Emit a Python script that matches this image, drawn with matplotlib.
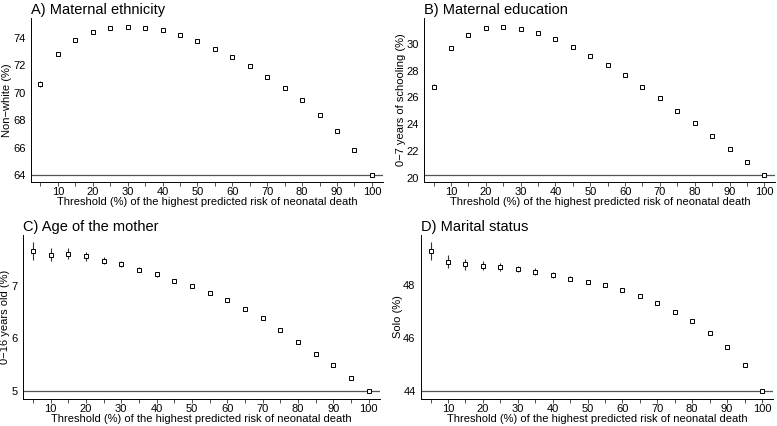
import matplotlib
matplotlib.use("Agg")
import matplotlib.pyplot as plt

plt.rcParams['font.family'] = ['Liberation Sans', 'DejaVu Sans']

thresholds = [5, 10, 15, 20, 25, 30, 35, 40, 45, 50, 55, 60, 65, 70, 75, 80, 85, 90, 95, 100]
xtick_labels = ['', '10', '20', '30', '40', '50', '60', '70', '80', '90', '100']

ethnicity = [70.63, 72.79, 73.83, 74.41, 74.70, 74.80, 74.73, 74.56, 74.22, 73.76,
             73.20, 72.59, 71.94, 71.16, 70.36, 69.44, 68.39, 67.18, 65.80, 64.00]
ethnicity_err = [0.20, 0.12, 0.08, 0.06, 0.05, 0.05, 0.04, 0.04, 0.04, 0.03,
                 0.03, 0.03, 0.03, 0.03, 0.02, 0.02, 0.02, 0.02, 0.02, 0.0]

education = [26.79, 29.70, 30.65, 31.19, 31.27, 31.09, 30.77, 30.32, 29.75, 29.10,
             28.38, 27.64, 26.79, 25.92, 25.00, 24.10, 23.13, 22.16, 21.19, 20.22]
education_err = [0.20, 0.12, 0.08, 0.06, 0.05, 0.05, 0.04, 0.04, 0.04, 0.03,
                 0.03, 0.03, 0.03, 0.03, 0.02, 0.02, 0.02, 0.02, 0.02, 0.0]

age = [7.66, 7.58, 7.60, 7.55, 7.47, 7.41, 7.30, 7.21, 7.09, 6.99,
       6.86, 6.73, 6.56, 6.38, 6.16, 5.93, 5.71, 5.49, 5.26, 5.00]
age_err = [0.17, 0.12, 0.10, 0.09, 0.07, 0.06, 0.05, 0.05, 0.04, 0.04,
           0.03, 0.03, 0.03, 0.02, 0.02, 0.02, 0.02, 0.01, 0.01, 0.0]

marital = [49.28, 48.88, 48.78, 48.72, 48.68, 48.60, 48.50, 48.37, 48.24, 48.12,
           47.98, 47.80, 47.60, 47.33, 46.99, 46.63, 46.21, 45.66, 45.00, 44.02]
marital_err = [0.34, 0.25, 0.20, 0.17, 0.15, 0.13, 0.12, 0.10, 0.09, 0.08,
               0.07, 0.07, 0.06, 0.05, 0.05, 0.04, 0.04, 0.03, 0.03, 0.0]

panels = [
    # title, ylabel, values, errors, yticks, ylim, axes rect, ylabel x
    ("A) Maternal ethnicity", "Non\u2212white (%)", ethnicity, ethnicity_err,
     [64, 66, 68, 70, 72, 74], (63.5, 75.45), [0.040, 0.573, 0.453, 0.385], -0.055),
    ("B) Maternal education", "0\u22127 years of schooling (%)", education, education_err,
     [20, 22, 24, 26, 28, 30], (19.7, 31.92), [0.546, 0.573, 0.452, 0.385], -0.052),
    ("C) Age of the mother", "0\u221216 years old (%)", age, age_err,
     [5, 6, 7], (4.86, 7.96), [0.030, 0.064, 0.459, 0.385], -0.037),
    ("D) Marital status", "Solo (%)", marital, marital_err,
     [44, 46, 48], (43.72, 49.89), [0.542, 0.064, 0.453, 0.385], -0.052),
]

fig = plt.figure(figsize=(7.77, 4.26), dpi=100)

for title, ylabel, vals, errs, yticks, ylim, rect, ylab_x in panels:
    ax = fig.add_axes(rect)
    ax.axhline(vals[-1], color='#555555', lw=0.9, zorder=1)
    ax.errorbar(thresholds, vals, yerr=errs, fmt='s', ms=3.2, mfc='white', mec='black',
                mew=0.7, ecolor='#333333', elinewidth=0.8, capsize=0, zorder=3)
    ax.set_xlim(2.3, 103.2)
    ax.set_ylim(*ylim)
    ax.set_xticks([5, 10, 20, 30, 40, 50, 60, 70, 80, 90, 100])
    ax.set_xticks([15, 25, 35, 45, 55, 65, 75, 85, 95], minor=True)
    ax.set_xticklabels(xtick_labels)
    ax.set_yticks(yticks)
    ax.tick_params(axis='x', which='both', length=3, width=0.6, pad=1, labelsize=8, color='#333333')
    ax.tick_params(axis='y', length=0, pad=4, labelsize=8)
    for s in ['top', 'right']:
        ax.spines[s].set_visible(False)
    for s in ['left', 'bottom']:
        ax.spines[s].set_linewidth(0.7)
    ax.set_xlabel("Threshold (%) of the highest predicted risk of neonatal death", fontsize=8, labelpad=0)
    ax.set_ylabel(ylabel, fontsize=8)
    ax.yaxis.set_label_coords(ylab_x, 0.5)
    ax.set_title(title, loc='left', fontsize=10.5, pad=3)

fig.savefig("out.png", dpi=100)
